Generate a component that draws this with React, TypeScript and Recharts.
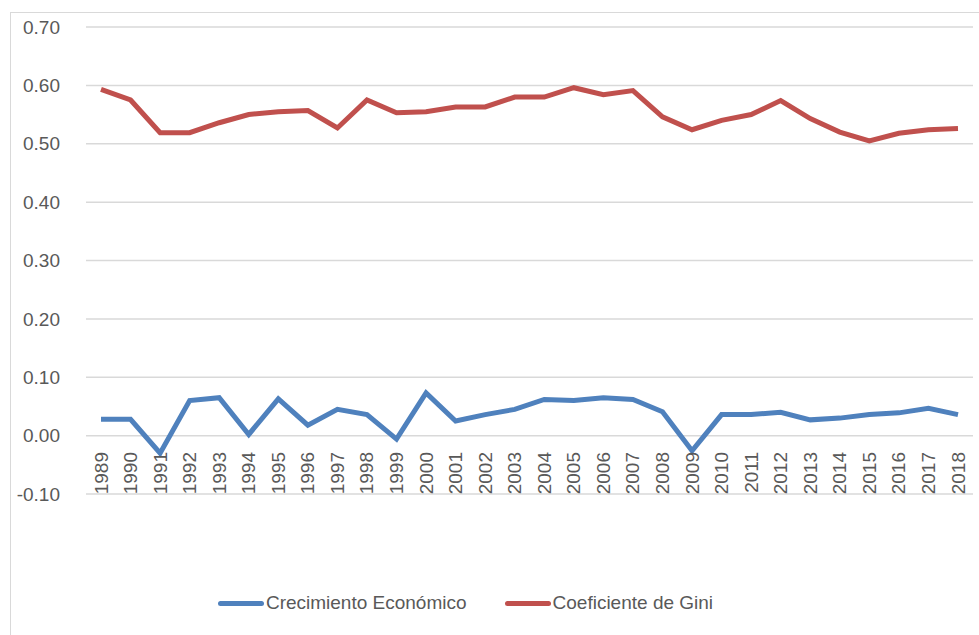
import { LineChart, Line, XAxis, YAxis, CartesianGrid, Legend } from 'recharts';

const YEARS = [
  '1989', '1990', '1991', '1992', '1993', '1994', '1995', '1996', '1997', '1998',
  '1999', '2000', '2001', '2002', '2003', '2004', '2005', '2006', '2007', '2008',
  '2009', '2010', '2011', '2012', '2013', '2014', '2015', '2016', '2017', '2018',
];

const CRECIMIENTO = [
  0.028, 0.028, -0.03, 0.06, 0.065, 0.002, 0.063, 0.018, 0.045, 0.036,
  -0.006, 0.073, 0.025, 0.036, 0.045, 0.062, 0.06, 0.065, 0.062, 0.041,
  -0.026, 0.036, 0.036, 0.04, 0.027, 0.03, 0.036, 0.039, 0.047, 0.036,
];

const GINI = [
  0.593, 0.575, 0.519, 0.519, 0.536, 0.55, 0.555, 0.557, 0.527, 0.575,
  0.553, 0.555, 0.563, 0.563, 0.58, 0.58, 0.596, 0.584, 0.591, 0.546,
  0.524, 0.54, 0.55, 0.574, 0.543, 0.52, 0.505, 0.518, 0.524, 0.526,
];

const Y_TICKS = [-0.1, 0, 0.1, 0.2, 0.3, 0.4, 0.5, 0.6, 0.7];

const BLUE = '#4f81bd';
const RED = '#c0504d';
const TEXT = '#595959';
const FONT = '"Liberation Sans", Arial, sans-serif';

const data = YEARS.map((year, i) => ({
  year,
  crecimiento: CRECIMIENTO[i],
  gini: GINI[i],
}));

function YearTick({ x, y, payload }: any) {
  const ty = y - 50;
  return (
    <text
      x={x}
      y={ty}
      transform={`rotate(-90, ${x}, ${ty})`}
      textAnchor="end"
      dominantBaseline="central"
      fill={TEXT}
      fontSize={19}
      fontFamily={FONT}
    >
      {payload.value}
    </text>
  );
}

function LegendContent() {
  const items = [
    { label: 'Crecimiento Económico', color: BLUE },
    { label: 'Coeficiente de Gini', color: RED },
  ];
  return (
    <div style={{ display: 'flex', justifyContent: 'center', gap: 38, fontFamily: FONT, fontSize: 19, color: TEXT }}>
      {items.map((it) => (
        <div key={it.label} style={{ display: 'flex', alignItems: 'center' }}>
          <span style={{ display: 'inline-block', width: 46, height: 5, borderRadius: 3, background: it.color, marginRight: 2 }} />
          <span>{it.label}</span>
        </div>
      ))}
    </div>
  );
}

export default function App() {
  return (
    <div style={{ position: 'absolute', left: 0, top: 0, width: 979, height: 635, overflow: 'hidden', background: '#fff' }}>
      <div style={{ position: 'absolute', left: 10, top: 12, width: 1000, height: 700, border: '1px solid #d9d9d9' }} />
      <LineChart width={979} height={635} data={data} margin={{ top: 27, right: 6, bottom: 0, left: 6 }}>
        <CartesianGrid vertical={false} stroke="#d9d9d9" strokeWidth={1.5} />
        <XAxis
          dataKey="year"
          axisLine={false}
          tickLine={false}
          interval={0}
          height={141}
          padding={{ left: 15, right: 15 }}
          tick={<YearTick />}
        />
        <YAxis
          domain={[-0.1, 0.7]}
          ticks={Y_TICKS}
          tickFormatter={(v: number) => v.toFixed(2)}
          axisLine={false}
          tickLine={false}
          width={80}
          tickMargin={20}
          tick={{ fill: TEXT, fontSize: 19, fontFamily: FONT }}
        />
        <Legend
          layout="horizontal"
          verticalAlign="middle"
          align="center"
          wrapperStyle={{ top: 592, left: -24, width: 979 }}
          content={<LegendContent />}
        />
        <Line
          type="linear"
          dataKey="crecimiento"
          name="Crecimiento Económico"
          stroke={BLUE}
          strokeWidth={5}
          dot={false}
          isAnimationActive={false}
        />
        <Line
          type="linear"
          dataKey="gini"
          name="Coeficiente de Gini"
          stroke={RED}
          strokeWidth={5}
          dot={false}
          isAnimationActive={false}
        />
      </LineChart>
    </div>
  );
}
